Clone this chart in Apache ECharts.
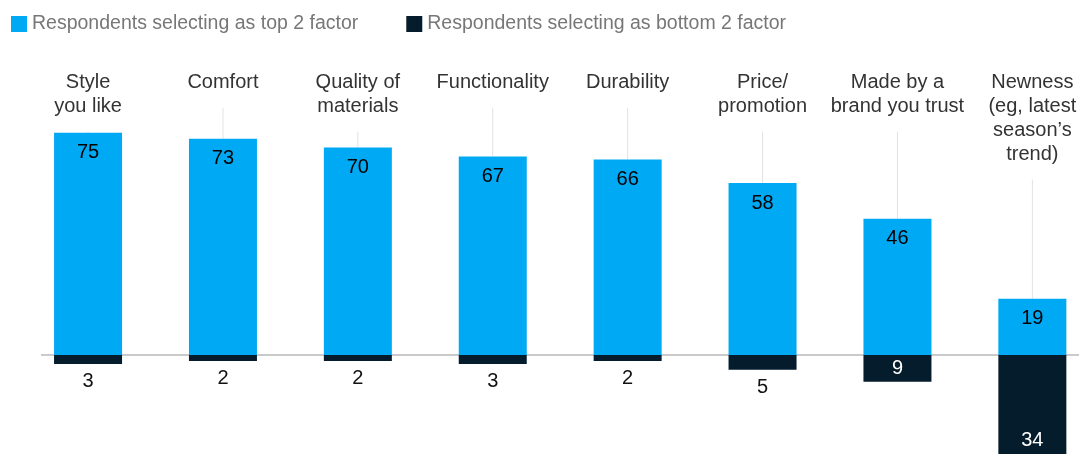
<!DOCTYPE html>
<html>
<head>
<meta charset="utf-8">
<script src="https://cdn.jsdelivr.net/npm/echarts@6/dist/echarts.min.js"></script>
<style>
  html, body { margin: 0; padding: 0; background: #fff; }
  #chart { width: 1084px; height: 454px; }
</style>
</head>
<body>
<div id="chart"></div>
<script>
// Factors, in the order shown
const categories = [
  'Style\nyou like',
  'Comfort',
  'Quality of\nmaterials',
  'Functionality',
  'Durability',
  'Price/\npromotion',
  'Made by a\nbrand you trust',
  'Newness\n(eg, latest\nseason\u2019s\ntrend)'
];
// % of respondents selecting each factor as a top 2 / bottom 2 factor
const topTwo = [75, 73, 70, 67, 66, 58, 46, 19];
const bottomTwo = [3, 2, 2, 3, 2, 5, 9, 34];

const seriesNames = ['Respondents selecting as top 2 factor', 'Respondents selecting as bottom 2 factor'];

const BLUE = '#00A9F4';
const NAVY = '#051C2C';
const FONT = '"Liberation Sans", Arial, Helvetica, sans-serif';

const Y_MIN = -40, Y_MAX = 100;
const LABEL_LINE_H = 24;
const LABEL_MARGIN = -12;

const chart = echarts.init(document.getElementById('chart'), null, { renderer: 'canvas' });

// Bottom-2 values drawn below the baseline
const bottomData = bottomTwo.map(function (v) {
  let label;
  if (v >= 20) {
    label = { position: 'insideBottom', distance: 5, color: '#fff' };
  } else if (v >= 8) {
    label = { position: 'inside', color: '#fff' };
  } else {
    label = { position: 'bottom', distance: 8, color: '#111' };
  }
  return { value: -v, label: label };
});

// Thin connectors from each category label down to its bar
function renderLeader(params, api) {
  const idx = api.value(0);
  const val = api.value(1);
  const barTop = api.coord([idx, val]);
  const gridTop = api.coord([idx, Y_MAX])[1];
  const nLines = categories[idx].split('\n').length;
  const startY = gridTop - LABEL_MARGIN + nLines * LABEL_LINE_H + 13;
  return {
    type: 'line',
    shape: { x1: barTop[0], y1: startY, x2: barTop[0], y2: barTop[1] },
    style: { stroke: '#e2e2e2', lineWidth: 1 },
    silent: true
  };
}

chart.setOption({
  animation: false,
  textStyle: { fontFamily: FONT },
  legend: {
    left: 11,
    top: 14,
    padding: 0,
    itemWidth: 16,
    itemHeight: 16,
    itemGap: 48,
    icon: 'rect',
    selectedMode: false,
    textStyle: { fontFamily: FONT, fontSize: 19.5, color: '#777' },
    data: seriesNames
  },
  grid: { left: 20.6, right: -15.8, top: 58.6, height: 415, outerBoundsMode: 'none' },
  xAxis: {
    type: 'category',
    data: categories,
    position: 'top',
    axisLine: { show: false, onZero: false },
    axisTick: { show: false },
    splitLine: { show: false },
    axisLabel: {
      interval: 0,
      margin: LABEL_MARGIN,
      verticalAlign: 'top',
      align: 'center',
      fontFamily: FONT,
      fontSize: 20,
      lineHeight: LABEL_LINE_H,
      color: '#333'
    }
  },
  yAxis: {
    type: 'value',
    min: Y_MIN,
    max: Y_MAX,
    show: false,
    splitLine: { show: false }
  },
  series: [
    {
      name: seriesNames[0],
      type: 'bar',
      data: topTwo,
      barWidth: 68,
      barGap: '-100%',
      itemStyle: { color: BLUE },
      label: {
        show: true,
        position: 'insideTop',
        distance: 10,
        fontFamily: FONT,
        fontSize: 20,
        color: '#000'
      },
      z: 3
    },
    {
      name: seriesNames[1],
      type: 'bar',
      data: bottomData,
      barWidth: 68,
      barGap: '-100%',
      itemStyle: { color: NAVY },
      label: {
        show: true,
        fontFamily: FONT,
        fontSize: 20,
        formatter: function (p) { return Math.abs(p.value); }
      },
      z: 3
    },
    {
      name: 'leaders',
      type: 'custom',
      renderItem: renderLeader,
      data: topTwo.map(function (v, i) { return [i, v]; }),
      silent: true,
      z: 1
    }
  ]
});

// Baseline at zero, behind the bars
const y0 = chart.convertToPixel({ yAxisIndex: 0 }, 0);
chart.setOption({
  graphic: [{
    type: 'line',
    z: 0,
    silent: true,
    shape: { x1: 41, y1: y0, x2: 1079, y2: y0 },
    style: { stroke: '#b8b8b8', lineWidth: 1.5 }
  }]
});
</script>
</body>
</html>
